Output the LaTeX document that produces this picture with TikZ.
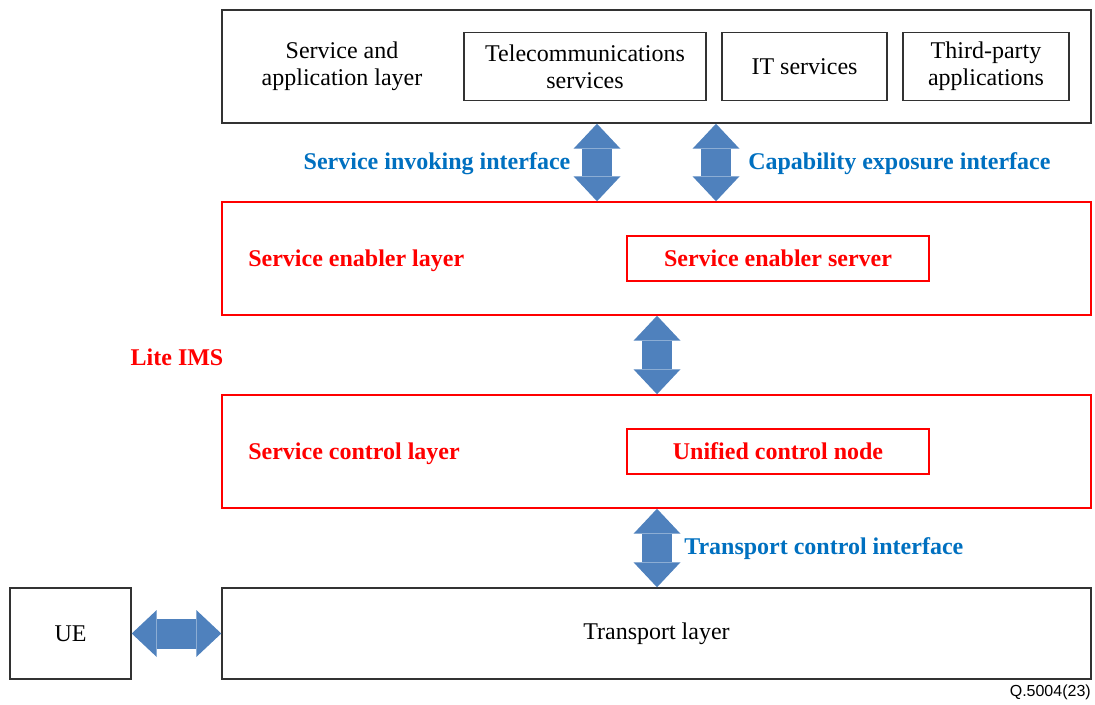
\documentclass[tikz,border=0pt]{standalone}
\usepackage{fontspec}
\setmainfont{Liberation Serif}
\newfontfamily\footfont{Liberation Sans}
\usetikzlibrary{arrows.meta}
\definecolor{ifblue}{RGB}{0,112,192}
\definecolor{arrowfill}{RGB}{79,129,189}
\definecolor{boxgray}{RGB}{50,50,50}
\tikzset{
  box/.style={draw=boxgray, line width=1.1pt, inner sep=0pt, align=center,
    font=\fontsize{18}{20}\selectfont},
  redbox/.style={draw=red, line width=1.1pt, inner sep=0pt, align=center,
    text=red, font=\fontsize{18}{20}\selectfont\bfseries},
  lbl/.style={inner sep=0pt, font=\fontsize{18}{20}\selectfont\bfseries},
  dbl/.style={draw=arrowfill, line width=22.5pt,
    {Triangle[length=18.75pt, width=35.25pt, line width=0pt]}-{Triangle[length=18.75pt, width=35.25pt, line width=0pt]}},
}
\begin{document}
\begin{tikzpicture}[x=0.75pt, y=-0.75pt]
\useasboundingbox (0,0) rectangle (1095,704);

% service and application layer with its three service boxes
\node[box, minimum width=651.75pt, minimum height=84.75pt] (sal) at (656.5,66.5) {};
\node[inner sep=0pt, align=center, font=\fontsize{18}{20}\selectfont] (saltext) at (342,66.5) {Service and\\application layer};
\node[box, minimum width=181.5pt, minimum height=51pt] (tel) at (585,66.5) {Telecommunications\\services};
\node[box, minimum width=123.75pt, minimum height=51pt] (its) at (804.5,66.5) {IT services};
\node[box, minimum width=124.5pt, minimum height=51pt] (tpa) at (986,66.5) {Third-party\\applications};

% Lite IMS layers
\node[redbox, minimum width=651.75pt, minimum height=84.75pt] (sel) at (656.5,258.5) {};
\node[redbox, minimum width=226.5pt, minimum height=33.75pt] (ses) at (778,258.5) {Service enabler server};
\node[redbox, minimum width=651.75pt, minimum height=84.75pt] (scl) at (656.5,451.5) {};
\node[redbox, minimum width=226.5pt, minimum height=33.75pt] (ucn) at (778,451.5) {Unified control node};

% transport layer and UE
\node[box, minimum width=651.75pt, minimum height=68.25pt] (tl) at (656.5,633.5) {Transport layer};
\node[box, minimum width=90.75pt, minimum height=68.25pt] (ue) at (70.5,633.5) {UE};

% labels
\node[lbl, text=ifblue] (sii) at (437,163.5) {Service invoking interface};
\node[lbl, text=ifblue, anchor=west] (cei) at (748,163.5) {Capability exposure interface};
\node[lbl, text=red] (lims) at (177,357) {Lite IMS};
\node[lbl, text=red, anchor=west] (sellbl) at (248,260.5) {Service enabler layer};
\node[lbl, text=red, anchor=west] (scllbl) at (248,453.5) {Service control layer};
\node[lbl, text=ifblue, anchor=west] (tci) at (684,549) {Transport control interface};
\node[inner sep=0pt, anchor=east, font=\footfont\fontsize{12}{14}\selectfont] (fig) at (1091,692) {Q.5004(23)};

% interface arrows
\draw[dbl] (sal.south -| 597,0) -- (sel.north -| 597,0);
\draw[dbl] (sal.south -| 716,0) -- (sel.north -| 716,0);
\draw[dbl] (sel.south -| 657,0) -- (scl.north -| 657,0);
\draw[dbl] (scl.south -| 657,0) -- (tl.north -| 657,0);
\draw[dbl] (ue.east) -- (tl.west);
\end{tikzpicture}
\end{document}
